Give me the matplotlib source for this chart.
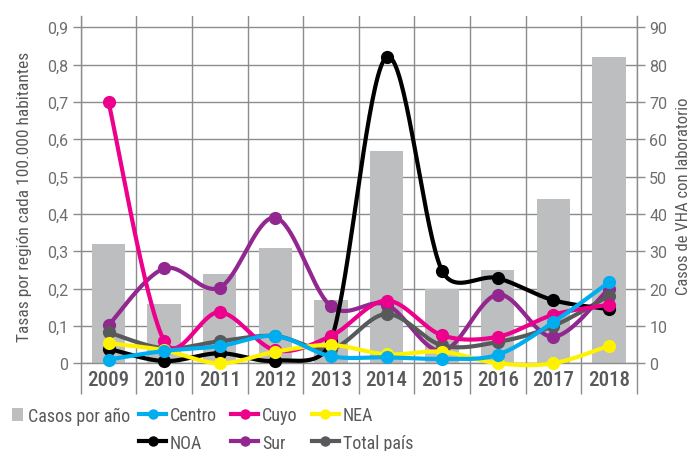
import numpy as np
import matplotlib
matplotlib.use("Agg")
import matplotlib.pyplot as plt
from matplotlib.lines import Line2D
from matplotlib.patches import Patch
from matplotlib.ticker import FixedLocator, FuncFormatter

# ---------------- data ----------------
years = ["2009", "2010", "2011", "2012", "2013", "2014", "2015", "2016", "2017", "2018"]
casos = [32, 16, 24, 31, 17, 57, 20, 25, 44, 82]
centro = [0.010, 0.033, 0.046, 0.073, 0.019, 0.016, 0.012, 0.023, 0.110, 0.217]
cuyo = [0.700, 0.060, 0.137, 0.035, 0.073, 0.168, 0.075, 0.071, 0.130, 0.157]
nea = [0.054, 0.035, 0.000, 0.031, 0.049, 0.024, 0.031, 0.000, 0.000, 0.047]
noa = [0.039, 0.006, 0.027, 0.007, 0.060, 0.820, 0.248, 0.228, 0.169, 0.145]
sur = [0.102, 0.254, 0.203, 0.390, 0.153, 0.157, 0.033, 0.184, 0.071, 0.200]
total = [0.083, 0.040, 0.059, 0.073, 0.038, 0.132, 0.048, 0.057, 0.100, 0.181]

series_names = ["Centro", "Cuyo", "NEA", "NOA", "Sur", "Total país"]
series_vals = [centro, cuyo, nea, noa, sur, total]
series_colors = ["#00aeef", "#ec008c", "#fff200", "#000000", "#92278f", "#58595b"]
series_z = [6, 4, 5, 3, 1, 2]

COND = ["Roboto Condensed", "DejaVu Sans"]
REG = ["Roboto", "DejaVu Sans"]
TXT = "#58595b"
TICK = "#6d6e71"
GRID = "#8a8c8e"
BAR = "#bcbec0"

W, H = 696, 452
PX_X = 55.6      # pixels per category
PX_Y = 373.3     # pixels per 1.0 of the rate axis


def smooth(xs, ys, n=40):
    """Excel-like smoothed line: Bezier with tangents (P2-P0)/6 clamped to half the segment."""
    pts = np.column_stack([np.asarray(xs, float) * PX_X, np.asarray(ys, float) * PX_Y])
    P = np.vstack([pts[0], pts, pts[-1]])
    out = []
    t = np.linspace(0, 1, n)[:, None]
    for i in range(1, len(P) - 2):
        p0, p1, p2, p3 = P[i - 1], P[i], P[i + 1], P[i + 2]
        d12 = np.linalg.norm(p2 - p1)
        v1 = (p2 - p0) / 6.0
        v2 = (p3 - p1) / 6.0
        n1, n2 = np.linalg.norm(v1), np.linalg.norm(v2)
        if n1 > d12 / 2 and n1 > 0:
            v1 = v1 * (d12 / 2) / n1
        if n2 > d12 / 2 and n2 > 0:
            v2 = v2 * (d12 / 2) / n2
        b1 = p1 + v1
        b2 = p2 - v2
        seg = (1 - t) ** 3 * p1 + 3 * (1 - t) ** 2 * t * b1 + 3 * (1 - t) * t ** 2 * b2 + t ** 3 * p2
        out.append(seg if i == 1 else seg[1:])
    c = np.vstack(out)
    return c[:, 0] / PX_X, c[:, 1] / PX_Y


fig = plt.figure(figsize=(W / 100, H / 100), dpi=100)
left, right = 80.7 / W, 636.7 / W
bottom, top = (H - 364.3) / H, (H - 17.1) / H
ax = fig.add_axes([left, bottom, right - left, top - bottom])
ax2 = ax.twinx()
axh = 364.3 - 17.1
axw = 636.7 - 80.7

x = np.arange(len(years))

# bars on host axis (right scale)
ax.bar(x, casos, width=0.6, color=BAR, zorder=2)
ax.set_xlim(-0.5, len(years) - 0.5)
ax.set_ylim(0, 93)
ax.yaxis.tick_right()
ax.yaxis.set_label_position("right")
ax.set_yticks(np.arange(0, 91, 10))
ax.tick_params(axis="y", which="major", length=6, width=1, color=GRID,
               labelcolor=TICK, labelsize=11.5, pad=3)
for lab in ax.get_yticklabels():
    lab.set_family(REG)
ax.set_ylabel("Casos de VHA con laboratorio", family=COND, fontsize=12, color=TXT)
ax.yaxis.set_label_coords((683 - 80.7) / axw, (364.3 - 196) / axh)
ax.yaxis.label.set_va("center")
ax.yaxis.label.set_ha("center")

ax.xaxis.set_major_locator(FixedLocator(np.arange(-0.5, len(years), 1.0)))
ax.xaxis.set_major_formatter(FuncFormatter(lambda v, p: ""))
ax.set_xticks(x, years, minor=True)
ax.tick_params(axis="x", which="major", length=22.5, width=1, color=GRID, direction="out")
ax.tick_params(axis="x", which="minor", length=0, pad=5, labelsize=15, labelcolor=TXT)
for lab in ax.get_xticklabels(minor=True):
    lab.set_family(COND)
    lab.set_weight("medium")

ax.grid(True, which="major", axis="both", color=GRID, linewidth=1, zorder=0)
ax.set_axisbelow(True)
ax.spines["top"].set_visible(False)
for s in ["left", "right", "bottom"]:
    ax.spines[s].set_color(GRID)
    ax.spines[s].set_linewidth(1)

# lines on twin axis (left scale)
ax2.set_ylim(0, 0.93)
ax2.yaxis.tick_left()
ax2.yaxis.set_label_position("left")
ax2.set_yticks(np.arange(0, 0.91, 0.1))
ax2.yaxis.set_major_formatter(FuncFormatter(lambda v, p: "0" if abs(v) < 1e-9 else f"{v:.1f}".replace(".", ",")))
ax2.tick_params(axis="y", length=6, width=1, color=GRID, labelcolor=TICK, labelsize=11.5, pad=3)
for lab in ax2.get_yticklabels():
    lab.set_family(REG)
ax2.set_ylabel("Tasas por región cada 100.000 habitantes", family=COND, fontsize=12.5, color=TXT)
ax2.yaxis.set_label_coords((25 - 80.7) / axw, (364.3 - 196.5) / axh)
ax2.yaxis.label.set_va("center")
ax2.yaxis.label.set_ha("center")
for s in ax2.spines.values():
    s.set_visible(False)

for name, vals, col, z in zip(series_names, series_vals, series_colors, series_z):
    cx, cy = smooth(x, vals)
    ax2.plot(cx, cy, color=col, lw=3, zorder=z, solid_capstyle="round", clip_on=False)
    ax2.plot(x, vals, ls="none", marker="o", ms=9.5, color=col, mec="none", zorder=z, clip_on=False)

# legends
fs = 13
fpx = fs * 100 / 72
prop = {"family": COND, "size": fs}
h_bar = [Patch(facecolor=BAR, edgecolor="none")]
fig.legend(h_bar, ["Casos por año"], loc="center left",
           bbox_to_anchor=(12 / W, 1 - 417 / H), frameon=False, borderpad=0,
           borderaxespad=0, handlelength=11 / fpx, handleheight=13 / fpx,
           handletextpad=5 / fpx, prop=prop, labelcolor=TXT)
line_handles = [Line2D([0], [0], color=c, lw=3, marker="o", ms=7.5, mec="none")
                for c in series_colors]
order = [0, 3, 1, 4, 2, 5]
fig.legend([line_handles[i] for i in order], [series_names[i] for i in order],
           ncol=3, loc="center left", bbox_to_anchor=(139 / W, 1 - 430 / H), frameon=False,
           borderpad=0, borderaxespad=0, handlelength=27 / fpx, handletextpad=4 / fpx,
           columnspacing=14 / fpx, labelspacing=0.5,
           prop=prop, labelcolor=TXT)

fig.savefig("out.png", dpi=100)
